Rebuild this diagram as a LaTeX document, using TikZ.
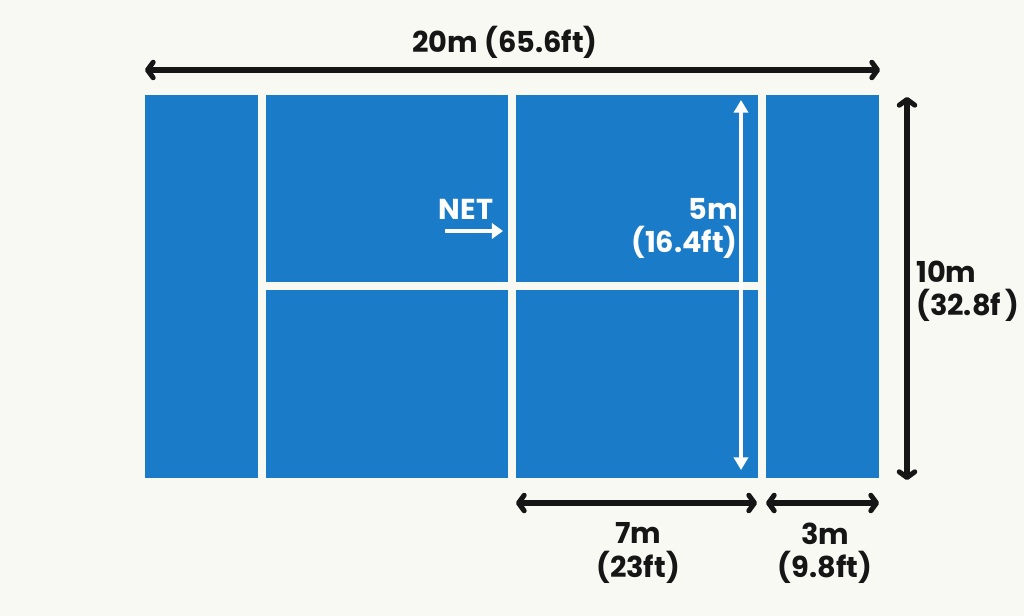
\documentclass[tikz,border=0pt]{standalone}
\usepackage{fontspec}
\setmainfont{Poppins}
\usetikzlibrary{arrows.meta}
\definecolor{courtblue}{RGB}{26,123,200}
\definecolor{paper}{RGB}{249,249,244}
\definecolor{ink}{RGB}{22,22,22}
\tikzstyle{panel}=[rectangle,fill=courtblue,draw=none,inner sep=0pt,anchor=north west]
\tikzstyle{dimline}=[draw=ink,line width=3.6pt,{Straight Barb[round,length=4pt,width=11pt]}-{Straight Barb[round,length=4pt,width=11pt]}]
\tikzstyle{whiteline}=[draw=white,line width=2.8pt]
\tikzstyle{label}=[font=\bfseries\fontsize{20.5}{23.5}\selectfont,text=ink,inner sep=0pt]
\tikzstyle{whitelabel}=[label,text=white]

\begin{document}
\begin{tikzpicture}[x=0.025cm,y=-0.025cm]

   \def\u{0.025cm}
   \fill[paper] (0,0) rectangle (1024,616);

% Court
    \foreach \x/\y/\w/\h/\name in {145/95/113/383/sideL, 266/95/242/187/topA, 266/290/242/188/botA, 516/95/242/187/topB, 516/290/242/188/botB, 766/95/113/383/sideR}
        \node[panel,minimum width=\w*\u,minimum height=\h*\u] (\name) at (\x,\y) {};

% Dimension ends
    \foreach \x/\y/\name in {145/70/wL, 880/70/wR, 907/97/hT, 907/480/hB, 516/503/sA, 757/503/sB, 766/503/eA, 879/503/eB, 741/100/nT, 741/470/nB, 445/231/netA, 503/231/netB}
        \coordinate (\name) at (\x,\y);

    \draw[dimline] (wL) -- (wR);
    \draw[dimline] (hT) -- (hB);
    \draw[dimline] (sA) -- (sB);
    \draw[dimline] (eA) -- (eB);
    \draw[whiteline,{Triangle[length=9pt,width=10pt]}-{Triangle[length=9pt,width=10pt]}] (nT) -- (nB);
    \draw[whiteline,line width=3.3pt,-{Triangle[length=8pt,width=11pt]}] (netA) -- (netB);

% Labels
  \node[label] (width) at (505,42) {20m (65.6ft)};
  \node[label,anchor=west,align=left] (height) at (916,291) {10m\\(32.8f\,)};
  \node[whitelabel,anchor=east,align=right] (half) at (738,228) {5m\\(16.4ft)};
  \node[whitelabel] (net) at (466,209) {NET};
  \node[label,align=center] (seven) at (638,553) {7m\\(23ft)};
  \node[label,align=center] (three) at (825,553) {3m\\(9.8ft)};

   \end{tikzpicture}
\end{document}
